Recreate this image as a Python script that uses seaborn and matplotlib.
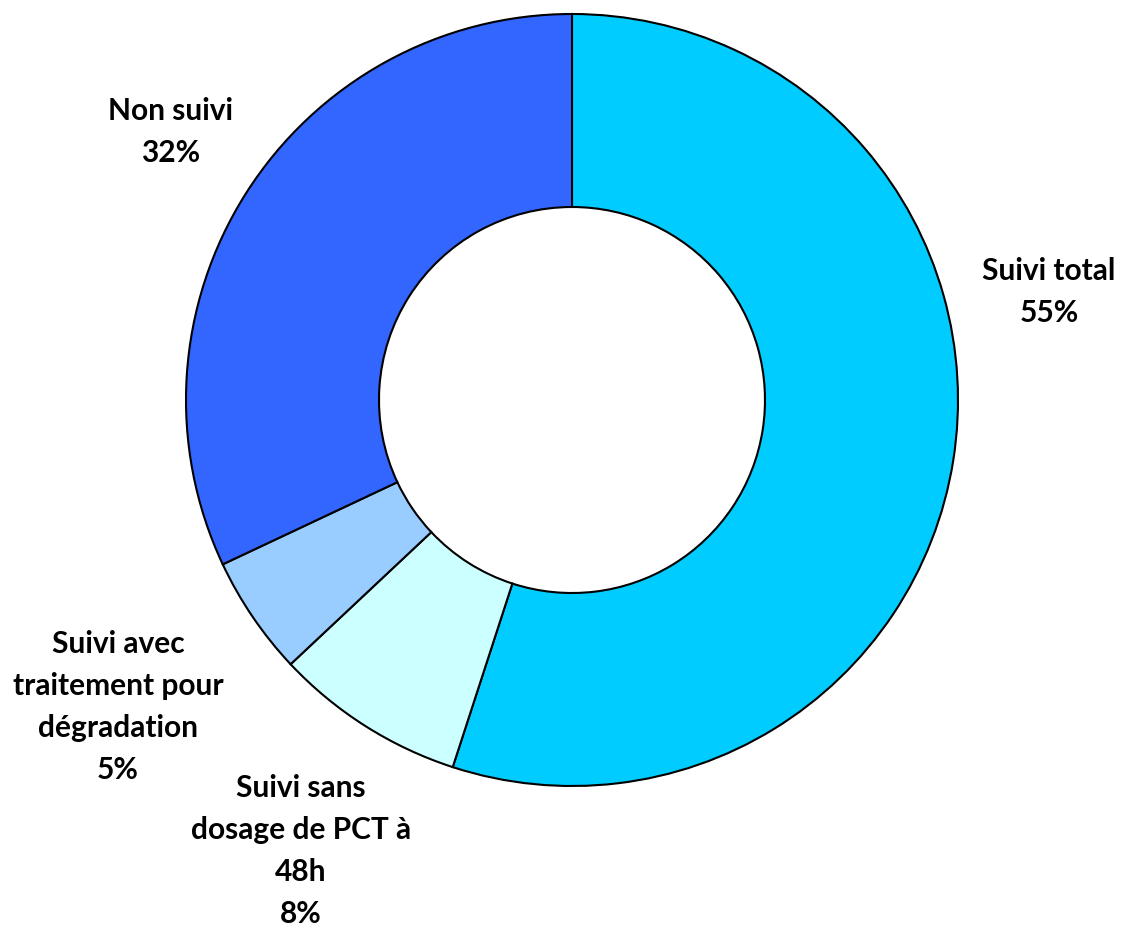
import matplotlib
matplotlib.use("Agg")
import matplotlib.pyplot as plt
import seaborn as sns

labels = ["Suivi total", "Suivi sans\ndosage de PCT à\n48h", "Suivi avec\ntraitement pour\ndégradation", "Non suivi"]
values = [55, 8, 5, 32]
colors = ["#00CCFF", "#CCFFFF", "#99CCFF", "#3366FF"]

sns.set_theme(style="white")
plt.rcParams['font.family'] = ['Lato', 'DejaVu Sans']

fig = plt.figure(figsize=(11.22, 9.3), dpi=100)
ax = fig.add_axes([(572 - 386) / 1122, (930 - 786) / 930, 772 / 1122, 772 / 930])
wedges, _ = ax.pie(values, colors=colors, startangle=90, counterclock=False,
                   radius=1, wedgeprops=dict(width=0.5, edgecolor="black", linewidth=1.5))
ax.set_xlim(-1, 1)
ax.set_ylim(-1, 1)
ax.axis("off")

label_pos = [(1.236, 0.280), (-0.702, -1.168), (-1.176, -0.795), (-1.039, 0.694)]
for lab, v, (x, y) in zip(labels, values, label_pos):
    ax.text(x, y, f"{lab}\n{v}%", ha="center", va="center", fontsize=21.5,
            fontweight="bold", linespacing=1.6, color="black")

fig.savefig("out.png", dpi=100, facecolor="white")
